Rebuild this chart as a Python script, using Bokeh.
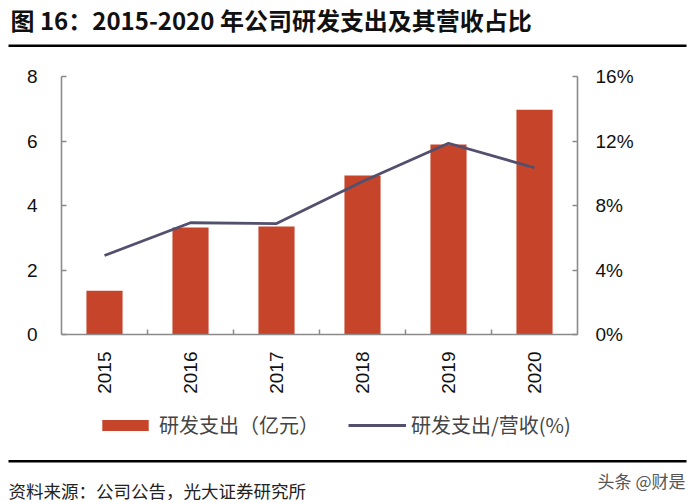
import math
from bokeh.plotting import figure
from bokeh.models import (Range1d, LinearAxis, FixedTicker, PrintfTickFormatter,
                          Legend, LegendItem, ColumnDataSource, Label, BoxAnnotation)
from bokeh.embed import file_html
from bokeh.resources import INLINE

years = ["2015", "2016", "2017", "2018", "2019", "2020"]
rd_spend = [1.36, 3.32, 3.35, 4.93, 5.89, 6.97]          # 亿元
rd_ratio = [4.9, 6.93, 6.88, 9.49, 11.86, 10.34]          # %
left_ticks = [0, 2, 4, 6, 8]
right_ticks = [0, 4, 8, 12, 16]

title_text = "图 16：2015-2020 年公司研发支出及其营收占比"
legend_bar = "研发支出（亿元）"
legend_line = "研发支出/营收(%)"
source_text = "资料来源：公司公告，光大证券研究所"
mark_text = "头条 @财是"

BAR = "#C5442A"
LINE = "#52506E"
AXIS = "#8A8A8A"
FONT = "Liberation Sans"
CJK = "Noto Sans CJK SC"

W, H = 690, 503
# layout of the plotting area in canvas pixels
X0_PX, X_STEP = 104, 86       # centre of first category, px per category
Y0_PX, Y_TOP_PX = 334, 76     # y=0 line and y=8 line
Y_MAX = 8
PCT_MAX = 16
y_unit = (Y0_PX - Y_TOP_PX) / Y_MAX

xs = list(range(len(years)))
src = ColumnDataSource(dict(x=xs, spend=rd_spend, ratio=rd_ratio))

x_range = Range1d(-X0_PX / X_STEP, (W - X0_PX) / X_STEP)
y_range = Range1d((Y0_PX - H) / y_unit, Y0_PX / y_unit)
k = PCT_MAX / Y_MAX
pct_range = Range1d(y_range.start * k, y_range.end * k)

p = figure(width=W, height=H, output_backend="svg", toolbar_location=None,
           x_range=x_range, y_range=y_range, tools="",
           x_axis_location=None, y_axis_location=None,
           min_border=0, min_border_left=0, min_border_right=0,
           min_border_top=0, min_border_bottom=0)
p.outline_line_color = None
p.grid.visible = False
p.background_fill_color = "white"
p.border_fill_color = "white"
p.extra_y_ranges = {"pct": pct_range}

bars = p.vbar(x="x", top="spend", width=0.42, source=src, fill_color=BAR, line_color=None)
line = p.line(x="x", y="ratio", source=src, y_range_name="pct", line_color=LINE, line_width=2.8)

lo, hi = -0.5, len(years) - 0.5

xa = LinearAxis(fixed_location=0, bounds=(lo, hi),
                ticker=FixedTicker(ticks=xs, minor_ticks=[i + 0.5 for i in xs[:-1]]))
xa.major_label_overrides = {i: y for i, y in enumerate(years)}
xa.major_label_orientation = math.pi / 2
xa.major_tick_line_color = None
xa.minor_tick_in = 5
xa.minor_tick_out = 0
xa.minor_tick_line_color = AXIS
xa.minor_tick_line_width = 1.5
xa.major_label_standoff = 11
p.add_layout(xa, "below")

ya = LinearAxis(fixed_location=lo, bounds=(0, Y_MAX), ticker=FixedTicker(ticks=left_ticks))
ya.major_label_standoff = 24
p.add_layout(ya, "left")

ra = LinearAxis(y_range_name="pct", fixed_location=hi, bounds=(0, PCT_MAX),
                ticker=FixedTicker(ticks=right_ticks),
                formatter=PrintfTickFormatter(format="%d%%"))
ra.major_label_standoff = 18
p.add_layout(ra, "right")

for ax in (xa, ya, ra):
    ax.axis_line_color = AXIS
    ax.axis_line_width = 1.6
    ax.major_label_text_font = FONT
    ax.major_label_text_font_size = "19px"
    ax.major_label_text_color = "#111111"
for ax in (ya, ra):
    ax.minor_tick_line_color = None
    ax.major_tick_in = 5
    ax.major_tick_out = 0
    ax.major_tick_line_color = AXIS
    ax.major_tick_line_width = 1.5

legend = Legend(items=[LegendItem(label=legend_bar, renderers=[bars]),
                       LegendItem(label=legend_line, renderers=[line])],
                location=(96, H - 439), orientation="horizontal",
                glyph_width=58, glyph_height=14, label_height=20,
                label_text_font=CJK, label_text_font_size="20px",
                label_standoff=5, spacing=29, padding=0, margin=0,
                border_line_color=None, background_fill_alpha=0)
p.add_layout(legend, "center")

def rule(y_top, y_bot):
    return BoxAnnotation(left=8, right=686, top=H - y_top, bottom=H - y_bot,
                         left_units="screen", right_units="screen",
                         top_units="screen", bottom_units="screen",
                         fill_color="black", fill_alpha=1, line_color=None)

p.add_layout(rule(44, 46.5))
p.add_layout(rule(459.5, 462))
p.add_layout(Label(x=10, y=H - 19, x_units="screen", y_units="screen",
                   text=title_text, text_font=CJK, text_font_size="24px",
                   text_font_style="bold", text_baseline="middle", text_color="#111111"))
p.add_layout(Label(x=8, y=H - 490, x_units="screen", y_units="screen",
                   text=source_text, text_font=CJK, text_font_size="17.5px",
                   text_baseline="middle", text_color="#222222"))
p.add_layout(Label(x=685, y=H - 480, x_units="screen", y_units="screen",
                   text=mark_text, text_font=CJK, text_font_size="17px",
                   text_align="right", text_baseline="middle", text_color="#555555"))

open("out.html", "w").write(file_html(p, INLINE))
